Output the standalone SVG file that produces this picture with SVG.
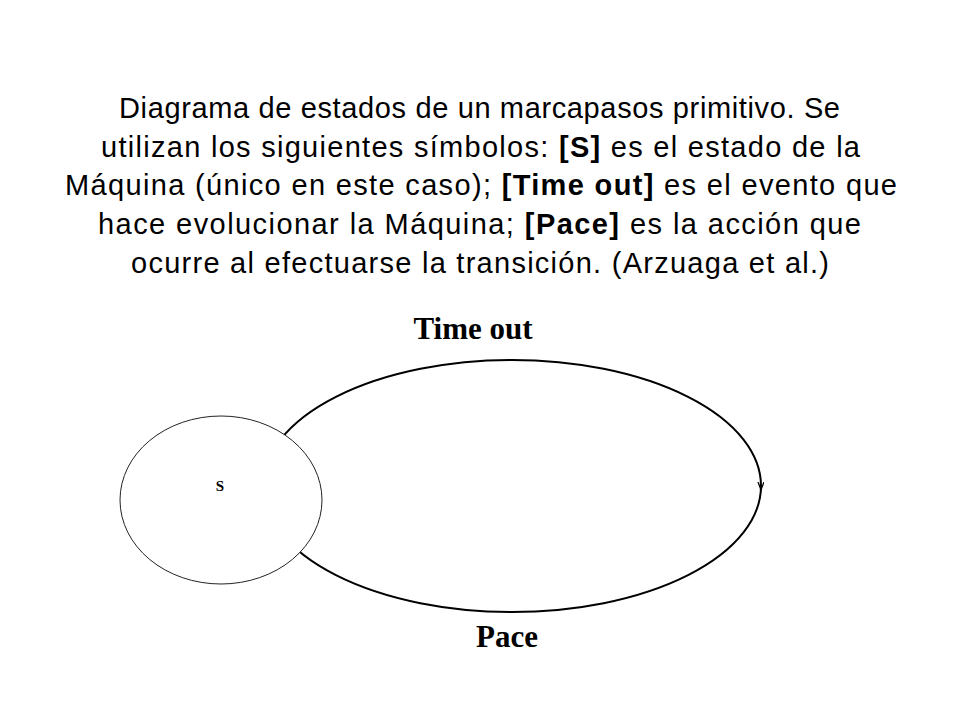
<svg xmlns="http://www.w3.org/2000/svg" width="960" height="720" viewBox="0 0 960 720">
<style>
.cap{font-family:"Liberation Sans",Arial,sans-serif;font-size:29px;fill:#000}
.b{font-weight:bold}
.lbl{font-family:"Liberation Serif","Times New Roman",serif;font-weight:bold;font-size:31px;fill:#000;text-anchor:middle}
.edge{fill:none;stroke:#000;stroke-width:2}
</style>
<defs>
<marker id="arr" markerWidth="10" markerHeight="8" refX="4" refY="3" orient="auto" markerUnits="userSpaceOnUse">
<path d="M0,0 L8,3 L0,6" fill="none" stroke="#000" stroke-width="1.3"/>
</marker>
</defs>
<rect width="960" height="720" fill="#fff"/>
<g id="caption">
<text class="cap" x="119" y="118" textLength="721" lengthAdjust="spacing">Diagrama de estados de un marcapasos primitivo. Se</text>
<text class="cap" x="101" y="157" textLength="759" lengthAdjust="spacing">utilizan los siguientes símbolos: <tspan class="b">[S]</tspan> es el estado de la</text>
<text class="cap" x="65" y="195" textLength="832" lengthAdjust="spacing">Máquina (único en este caso); <tspan class="b">[Time out]</tspan> es el evento que</text>
<text class="cap" x="98" y="234" textLength="763" lengthAdjust="spacing">hace evolucionar la Máquina; <tspan class="b">[Pace]</tspan> es la acción que</text>
<text class="cap" x="131" y="273" textLength="698" lengthAdjust="spacing">ocurre al efectuarse la transición. (Arzuaga et al.)</text>
</g>
<g id="connectors">
<path class="edge" d="M263,486 A249,126 0 0 1 761,486" marker-end="url(#arr)"/>
<path class="edge" d="M761,486 A249,126 0 0 1 263,486"/>
<text class="lbl" x="473" y="339">Time out</text>
<text class="lbl" x="507" y="647">Pace</text>
</g>
<g id="node-S">
<ellipse cx="221" cy="500" rx="101" ry="84" fill="#fff" stroke="#222" stroke-width="1"/>
<text x="220" y="491" font-family="Liberation Serif,'Times New Roman',serif" font-weight="bold" font-size="15" text-anchor="middle">S</text>
</g>
</svg>
